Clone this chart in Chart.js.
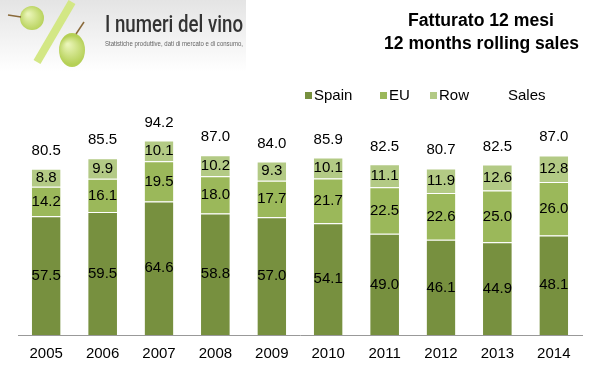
<!DOCTYPE html>
<html>
<head>
<meta charset="utf-8">
<script src="https://cdn.jsdelivr.net/npm/chart.js@4"></script>
<style>
  html, body { margin: 0; padding: 0; background: #fff; }
  #wrap { position: relative; width: 600px; height: 388px; }
</style>
</head>
<body>
<div id="wrap"><canvas id="salesChart" width="600" height="388"></canvas></div>
<script>
// ---- data ----
const years = ['2005', '2006', '2007', '2008', '2009', '2010', '2011', '2012', '2013', '2014'];
const spain = [57.5, 59.5, 64.6, 58.8, 57.0, 54.1, 49.0, 46.1, 44.9, 48.1];
const eu    = [14.2, 16.1, 19.5, 18.0, 17.7, 21.7, 22.5, 22.6, 25.0, 26.0];
const row   = [8.8, 9.9, 10.1, 10.2, 9.3, 10.1, 11.1, 11.9, 12.6, 12.8];
const sales = [80.5, 85.5, 94.2, 87.0, 84.0, 85.9, 82.5, 80.7, 82.5, 87.0];

const FONT = "'Liberation Sans', Arial, sans-serif";
const COLORS = ['#77903f', '#9bb85a', '#b3ca85'];

// squeeze a text into a given width (left aligned at x)
function fitText(ctx, text, x, y, width) {
    const w = ctx.measureText(text).width;
    ctx.save();
    ctx.textAlign = 'left';
    ctx.translate(x, y);
    ctx.scale(Math.min(1, width / w), 1);
    ctx.fillText(text, 0, 0);
    ctx.restore();
}

// header: logo, title and legend, drawn straight on the canvas
const headerPlugin = {
    id: 'header',
    beforeDraw(chart) {
        const ctx = chart.ctx;
        ctx.save();
        // soft grey band behind the logo
        const bg = ctx.createLinearGradient(0, 0, 0, 72);
        bg.addColorStop(0, '#e4e4e4');
        bg.addColorStop(1, '#ffffff');
        ctx.fillStyle = bg;
        ctx.fillRect(0, 0, 246, 72);

        // rough percent sign made of grapes
        ctx.strokeStyle = '#d3e785';
        ctx.lineWidth = 8;
        ctx.beginPath();
        ctx.moveTo(72, 2);
        ctx.lineTo(37, 62);
        ctx.stroke();
        const grape = (x, y, rx, ry) => {
            const g = ctx.createRadialGradient(x - rx / 3, y - ry / 3, 1, x, y, rx * 1.1);
            g.addColorStop(0, '#eaf5b8');
            g.addColorStop(1, '#b5d056');
            ctx.fillStyle = g;
            ctx.beginPath();
            ctx.ellipse(x, y, rx, ry, 0, 0, Math.PI * 2);
            ctx.fill();
        };
        grape(32, 18, 12, 12);
        grape(72, 50, 13, 17);
        ctx.strokeStyle = '#8a6a3a';
        ctx.lineWidth = 1.5;
        ctx.beginPath(); ctx.moveTo(21, 17); ctx.lineTo(8, 15); ctx.stroke();
        ctx.beginPath(); ctx.moveTo(76, 34); ctx.lineTo(84, 22); ctx.stroke();

        ctx.fillStyle = '#333';
        ctx.textBaseline = 'middle';
        ctx.font = "500 23px Roboto, " + FONT;
        fitText(ctx, 'I numeri del vino', 105, 26, 138);
        ctx.fillStyle = '#666';
        ctx.font = "7px " + FONT;
        fitText(ctx, 'Statistiche produttive, dati di mercato e di consumo,', 105, 44, 138);

        // title
        ctx.fillStyle = '#000';
        ctx.font = "bold 18px " + FONT;
        fitText(ctx, 'Fatturato 12 mesi', 408, 21, 146);
        fitText(ctx, '12 months rolling sales', 384, 44, 195);

        // legend
        ctx.font = "15px " + FONT;
        ctx.textAlign = 'left';
        const legend = [['Spain', 305], ['EU', 380], ['Row', 430]];
        legend.forEach(([name, x], i) => {
            ctx.fillStyle = COLORS[i];
            ctx.fillRect(x, 92, 7, 7);
            ctx.fillStyle = '#000';
            ctx.fillText(name, x + 9, 96);
        });
        ctx.fillText('Sales', 508, 96);
        ctx.restore();
    }
};

// value labels inside the segments and totals above the bars
const labelPlugin = {
    id: 'valueLabels',
    afterDatasetsDraw(chart) {
        const ctx = chart.ctx;
        ctx.save();
        ctx.font = "15px " + FONT;
        ctx.fillStyle = '#000';
        ctx.textAlign = 'center';
        ctx.textBaseline = 'middle';
        [0, 1, 2].forEach(di => {
            chart.getDatasetMeta(di).data.forEach((bar, i) => {
                const mid = (bar.y + bar.base) / 2;
                ctx.fillText(chart.data.datasets[di].data[i].toFixed(1), bar.x, mid);
            });
        });
        chart.getDatasetMeta(3).data.forEach((pt, i) => {
            ctx.fillText(sales[i].toFixed(1), pt.x, pt.y - 18);
        });
        ctx.restore();
    }
};

const barStyle = {
    borderColor: '#ffffff',
    borderWidth: { top: 1, left: 0, right: 0, bottom: 0 },
    borderSkipped: false,
    categoryPercentage: 1,
    barPercentage: 0.51
};

new Chart(document.getElementById('salesChart'), {
    data: {
        labels: years,
        datasets: [
            Object.assign({ type: 'bar', label: 'Spain', data: spain, backgroundColor: COLORS[0] }, barStyle),
            Object.assign({ type: 'bar', label: 'EU', data: eu, backgroundColor: COLORS[1] }, barStyle),
            Object.assign({ type: 'bar', label: 'Row', data: row, backgroundColor: COLORS[2] }, barStyle),
            {
                type: 'line', label: 'Sales', data: sales, stack: 'total',
                showLine: false, pointRadius: 0, pointHoverRadius: 0,
                borderColor: 'rgba(0,0,0,0)', backgroundColor: 'rgba(0,0,0,0)'
            }
        ]
    },
    options: {
        responsive: false,
        animation: false,
        layout: { padding: { top: 116, left: 18, right: 18, bottom: 15 } },
        plugins: {
            tooltip: { enabled: false },
            legend: { display: false }
        },
        scales: {
            x: {
                stacked: true,
                grid: { display: false, drawTicks: false },
                border: { color: '#999', width: 1 },
                ticks: { color: '#000', font: { family: FONT, size: 15 }, padding: 10 }
            },
            y: {
                stacked: true,
                display: false,
                min: 0,
                max: 106
            }
        }
    },
    plugins: [headerPlugin, labelPlugin]
});
</script>
</body>
</html>
